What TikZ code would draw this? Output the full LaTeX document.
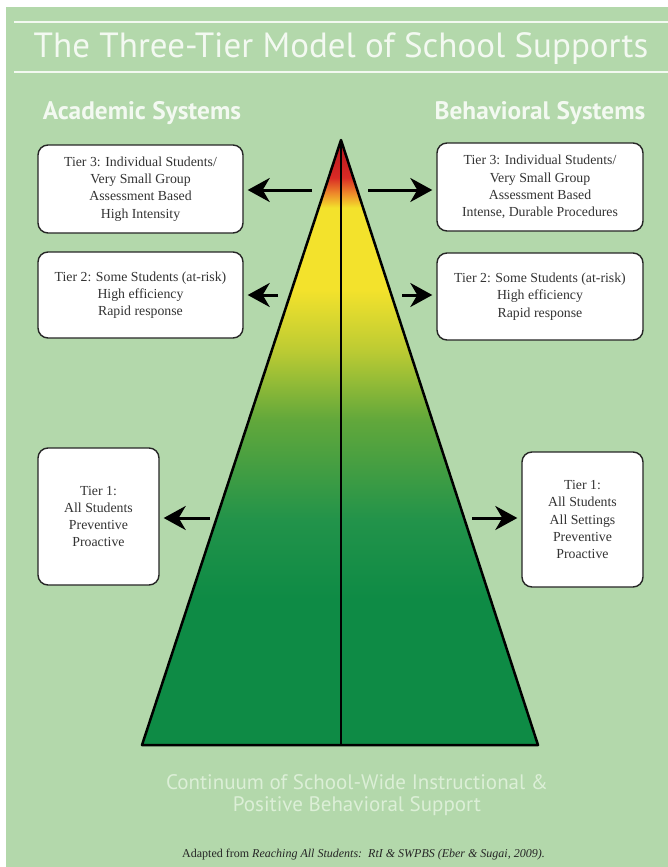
\documentclass[tikz,border=0pt]{standalone}
\usepackage{fontspec}
\setmainfont{Liberation Serif}
\newfontfamily\headfont{PT Sans}
\usepackage{tikz}
\usetikzlibrary{arrows.meta}

\definecolor{bggreen}{HTML}{B3D8AB}
\definecolor{headwhite}{HTML}{F3F9F1}
\definecolor{footgreen}{HTML}{DCEFD7}
\definecolor{boxtext}{HTML}{333333}
\definecolor{tgreen}{HTML}{0E8B45}
\definecolor{tgreenb}{HTML}{22934A}
\definecolor{tgreenc}{HTML}{62A83B}
\definecolor{tolive}{HTML}{BCCB33}
\definecolor{tyellow}{HTML}{F3E22C}
\definecolor{torange}{HTML}{EE8A2A}
\definecolor{tred}{HTML}{D92A25}
\definecolor{tdarkred}{HTML}{B3141C}

\pgfdeclareverticalshading{tiershade}{100bp}{%
  color(0bp)=(tgreen); color(25bp)=(tgreen); color(37bp)=(tgreen);
  color(43.6bp)=(tgreenb); color(51.9bp)=(tgreenc); color(57.6bp)=(tolive);
  color(62.6bp)=(tyellow); color(69.4bp)=(tyellow); color(70.6bp)=(torange);
  color(71.9bp)=(tred); color(75bp)=(tdarkred); color(100bp)=(tdarkred)}

\begin{document}
\begin{tikzpicture}[x=1pt,y=-1pt]
\tikzset{tierbox/.style = {draw=black!85,line width=1.4pt,fill=white,rounded corners=10pt,
  align=center,inner sep=0pt,text=boxtext,font=\fontsize{13.8}{17.3}\selectfont}}
\tikzset{tierarrow/.style = {line width=3pt,-{Stealth[length=22pt,width=24pt,inset=7pt]},shorten >=4pt}}
\tikzset{syshead/.style = {anchor=base,text=headwhite,font=\headfont\bfseries\fontsize{25.3}{28}\selectfont}}
\tikzset{foot/.style = {anchor=base,text=footgreen,font=\headfont\fontsize{21}{24}\selectfont}}

\useasboundingbox (0,0) rectangle (668,867);
\fill[white] (0,0) rectangle (668,867);
\fill[bggreen] (6,7) rectangle (668,867);

% title
\draw[headwhite,line width=2pt] (14,22) -- (668,22);
\draw[headwhite,line width=2pt] (14,72) -- (668,72);
\node[anchor=base,text=headwhite,font=\headfont\fontsize{35}{38}\selectfont] (title) at (341,58)
  {The Three-Tier Model of School Supports};

\node[syshead] (acad) at (142,119) {Academic Systems};
\node[syshead] (behav) at (540,119) {Behavioral Systems};

% pyramid
\coordinate (apex) at (341,140);
\coordinate (bl) at (142,745);
\coordinate (br) at (538,745);
\coordinate (bm) at (341,745);
\shade[shading=tiershade] (apex) -- (br) -- (bl) -- cycle;
\draw[line width=2.5pt,line join=round] (apex) -- (br) -- (bl) -- cycle;
\draw[line width=2pt] (apex) -- (bm);

% academic side
\node[tierbox,minimum width=205pt,minimum height=88pt] (a3) at (140.5,189)
  {Tier 3: Individual Students/\\Very Small Group\\Assessment Based\\High Intensity};
\node[tierbox,minimum width=205pt,minimum height=86pt] (a2) at (140.5,295)
  {Tier 2: Some Students (at-risk)\\High efficiency\\Rapid response};
\node[tierbox,minimum width=121pt,minimum height=137pt] (a1) at (98.5,516.5)
  {Tier 1:\\All Students\\Preventive\\Proactive};

% behavioral side
\node[tierbox,minimum width=206pt,minimum height=88pt] (b3) at (540,187)
  {Tier 3: Individual Students/\\Very Small Group\\Assessment Based\\Intense, Durable Procedures};
\node[tierbox,minimum width=206pt,minimum height=87pt] (b2) at (540,296.5)
  {Tier 2: Some Students (at-risk)\\High efficiency\\Rapid response};
\node[tierbox,minimum width=121pt,minimum height=135pt] (b1) at (582.5,519.5)
  {Tier 1:\\All Students\\All Settings\\Preventive\\Proactive};

\coordinate (a3s) at (312,190);
\coordinate (a2s) at (278,295);
\coordinate (a1s) at (210,518);
\coordinate (b3s) at (368,190);
\coordinate (b2s) at (402,295);
\coordinate (b1s) at (472,518);

\draw[tierarrow] (a3s) -- (a3s -| a3.east);
\draw[tierarrow] (a2s) -- (a2s -| a2.east);
\draw[tierarrow] (a1s) -- (a1s -| a1.east);
\draw[tierarrow] (b3s) -- (b3s -| b3.west);
\draw[tierarrow] (b2s) -- (b2s -| b2.west);
\draw[tierarrow] (b1s) -- (b1s -| b1.west);

% footer
\node[foot] (cont1) at (357,789) {Continuum of School-Wide Instructional \&};
\node[foot] (cont2) at (357,811) {Positive Behavioral Support};
\node[anchor=base,text=black!85,font=\fontsize{12}{14}\selectfont] (src) at (363.5,857)
  {Adapted from \textit{Reaching All Students:\ \ RtI \& SWPBS (Eber \& Sugai, 2009).}};
\end{tikzpicture}
\end{document}
